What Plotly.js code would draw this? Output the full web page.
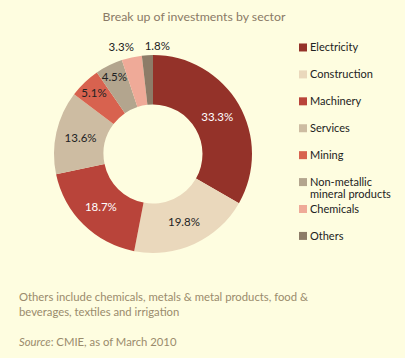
<!DOCTYPE html>
<html><head><meta charset="utf-8">
<script src="https://cdn.plot.ly/plotly-3.0.1.min.js"></script>
<style>html,body{margin:0;padding:0;background:#FEFDE0;}#chart{width:405px;height:358px;}</style>
</head><body><div id="chart"></div>
<script>
const sectors = ["Electricity","Construction","Machinery","Services","Mining","Non-metallic<br>mineral products","Chemicals","Others"];
const shares = [33.3, 19.8, 18.7, 13.6, 5.1, 4.5, 3.3, 1.8];
const labelTexts = ["33.3%","19.8%","18.7%","13.6%","5.1%","4.5%","3.3%","1.8%"];
const colors = ["#943229","#EAD8BC","#B9443A","#CDBCA2","#D8624F","#B3A58E","#EFAA98","#8D7C68"];
const textColors = ["#FFFFFF","#222222","#FFFFFF","#222222","#222222","#222222","#222222","#222222"];
// thin slices whose labels sit above the ring: angular nudge (degrees) and size of their label ring
const outerLabelNudge = [null, null, null, null, null, null, -4, 5.5];
const outerLabelRing  = [null, null, null, null, null, null, 124, 115];

const FONT = "Lato, 'Open Sans', sans-serif";
const CX = 153, CY = 204, R = 99;   // donut centre and radius in px (from bottom-left)
const legendNames = sectors.map(s => s.indexOf("<br>") >= 0
  ? s.split("<br>").map(p => '<span style="font-size:11px">' + p + '</span>').join("<br>")
  : '<span style="font-size:11px">' + s + '</span><br> ');

const mainText = labelTexts.map((t, i) => outerLabelNudge[i] === null ? t : "");
const dom = r => ({x: [(CX - r)/405, (CX + r)/405], y: [(CY - r)/358, (CY + r)/358]});

const traces = [{
  type: "pie",
  labels: legendNames,
  values: shares,
  text: mainText,
  textinfo: "text",
  textposition: "inside",
  insidetextorientation: "horizontal",
  textfont: {family: FONT, size: 11.5, color: textColors},
  marker: {colors: colors, line: {width: 0}},
  hole: 0.5,
  sort: false,
  direction: "clockwise",
  rotation: 0,
  domain: dom(R),
  hoverinfo: "none"
}];

// transparent outer rings that only carry the labels of the thinnest slices
outerLabelNudge.forEach((nudge, k) => {
  if (nudge === null) return;
  const rr = outerLabelRing[k];
  traces.push({
    type: "pie",
    labels: labelTexts,
    values: shares,
    text: labelTexts.map((t, i) => i === k ? t : ""),
    textinfo: "text",
    textposition: "inside",
    insidetextorientation: "horizontal",
    textfont: {family: FONT, size: 11.5, color: "#222222"},
    marker: {colors: shares.map(() => "rgba(0,0,0,0)"), line: {width: 0}},
    hole: (R - 7) / rr,
    sort: false,
    direction: "clockwise",
    rotation: nudge,
    showlegend: false,
    domain: dom(rr),
    hoverinfo: "none"
  });
});

const layout = {
  width: 405, height: 358,
  paper_bgcolor: "#FEFDE0", plot_bgcolor: "#FEFDE0",
  margin: {l: 0, r: 0, t: 0, b: 0},
  font: {family: FONT, color: "#222222"},
  uniformtext: {minsize: 11.5, mode: "show"},
  title: {text: "Break up of investments by sector", font: {family: "Lato, sans-serif", size: 12.3, color: "#8A7A66"}, x: 194/405, xanchor: "center", y: 1 - 17/358, yanchor: "middle"},
  showlegend: true,
  legend: {x: 270/405, xanchor: "left", y: 1 - 35/358, yanchor: "top", valign: "top",
           font: {family: FONT, size: 9.2, color: "#222222"},
           bgcolor: "rgba(0,0,0,0)", traceorder: "normal"},
  annotations: [
    {text: "Others include chemicals, metals &amp; metal products, food &amp;<br>beverages, textiles and irrigation",
     xref: "paper", yref: "paper", x: 17/405, y: 1 - 288/358, xanchor: "left", yanchor: "top", align: "left", showarrow: false,
     font: {family: FONT, size: 11.3, color: "#9A8B6C"}},
    {text: "<i>Source</i>: CMIE, as of March 2010",
     xref: "paper", yref: "paper", x: 17/405, y: 1 - 341/358, xanchor: "left", yanchor: "middle", align: "left", showarrow: false,
     font: {family: FONT, size: 11.3, color: "#9A8B6C"}}
  ]
};

Plotly.newPlot("chart", traces, layout, {displayModeBar: false, staticPlot: true}).then(gd => {
  // smaller legend swatches, with a small gap before their text
  gd.querySelectorAll(".legend .legendpie").forEach(p => {
    p.setAttribute("d", "M4,4H-4V-4H4Z");
    p.setAttribute("transform", "translate(33,0)");
  });
});
</script></body></html>
